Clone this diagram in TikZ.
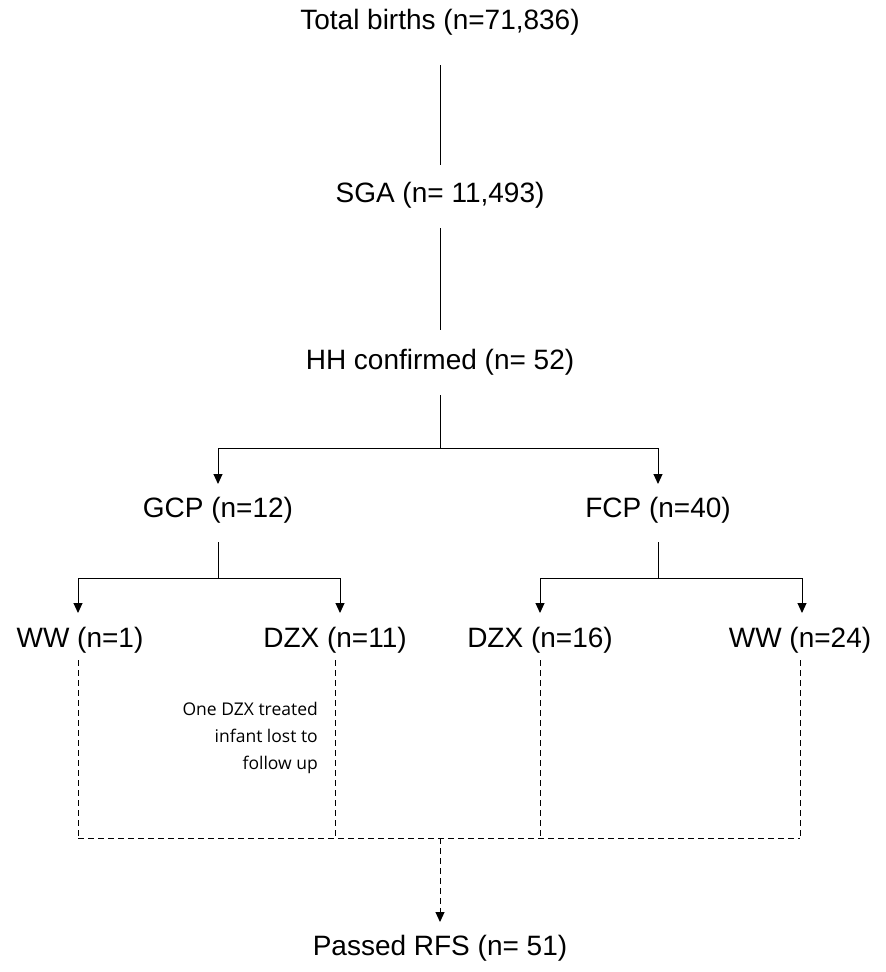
\documentclass[tikz,border=0pt]{standalone}
\usepackage{fontspec}
\setmainfont{Liberation Sans}
\newfontfamily\notefont{Open Sans}
\usetikzlibrary{arrows.meta}
\begin{document}
\begin{tikzpicture}[x=1pt,y=-1pt,
  lbl/.style={inner sep=0pt,font=\fontsize{28}{32}\selectfont},
  ln/.style={line width=1pt},
  arr/.style={ln,-{Triangle[length=10pt,width=9pt]}},
  dln/.style={ln,dashed,dash pattern=on 6pt off 4pt}]
\useasboundingbox (0,0) rectangle (886,972);
\node[lbl] (tb) at (440,22) {Total births (n=71,836)};
\node[lbl] (sga) at (440,195) {SGA (n= 11,493)};
\node[lbl] (hh) at (440,362) {HH confirmed (n= 52)};
\node[lbl] (gcp) at (218,510) {GCP (n=12)};
\node[lbl] (fcp) at (658,510) {FCP (n=40)};
\node[lbl] (ww1) at (80,640) {WW (n=1)};
\node[lbl] (dzx11) at (335,640) {DZX (n=11)};
\node[lbl] (dzx16) at (540,640) {DZX (n=16)};
\node[lbl] (ww24) at (800,640) {WW (n=24)};
\node[lbl] (rfs) at (440,948) {Passed RFS (n= 51)};
\node[inner sep=0pt,align=right,anchor=east,font=\notefont\fontsize{17.5}{27}\selectfont] (note) at (318,738) {One DZX treated\\infant lost to\\follow up};
\coordinate (s1) at (440,65); \coordinate (e1) at (440,165);
\coordinate (s2) at (440,228); \coordinate (e2) at (440,330);
\draw[ln] (s1) -- (e1);
\draw[ln] (s2) -- (e2);
\coordinate (h0) at (440,395); \coordinate (hj) at (440,448);
\coordinate (hl) at (218,448); \coordinate (hr) at (658,448);
\draw[ln] (h0) -- (hj);
\draw[ln] (hl) -- (hr);
\draw[arr] (hl) -- (218,484);
\draw[arr] (hr) -- (658,484);
\coordinate (g0) at (218,542); \coordinate (gj) at (218,578);
\draw[ln] (g0) -- (gj);
\draw[ln] (78,578) -- (340,578);
\draw[arr] (78,578) -- (78,613);
\draw[arr] (340,578) -- (340,613);
\coordinate (f0) at (658,542); \coordinate (fj) at (658,578);
\draw[ln] (f0) -- (fj);
\draw[ln] (540,578) -- (802,578);
\draw[arr] (540,578) -- (540,613);
\draw[arr] (802,578) -- (802,613);
\draw[dln] (78,660) -- (78,838);
\draw[dln] (335,660) -- (335,838);
\draw[dln] (540,660) -- (540,838);
\draw[dln] (800,660) -- (800,838);
\draw[dln] (78,838) -- (800,838);
\draw[dln,-{Triangle[length=10pt,width=9pt]}] (440,838) -- (440,922);
\end{tikzpicture}
\end{document}
